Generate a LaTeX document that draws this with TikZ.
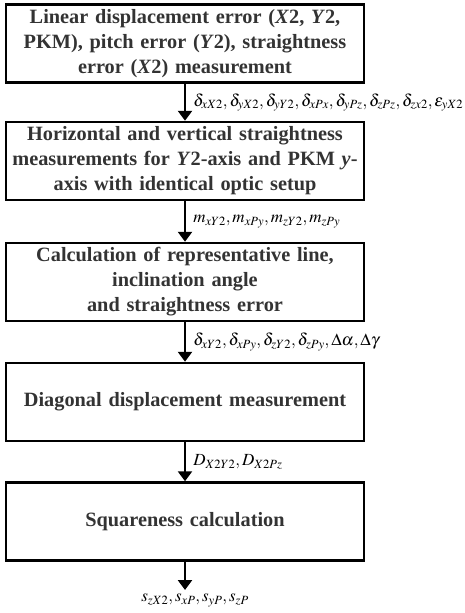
\documentclass[tikz,border=0pt]{standalone}
\usepackage{mathptmx}
\usepackage{fontspec}
\setmainfont{Liberation Serif}
\usetikzlibrary{arrows.meta,positioning,calc}
\tikzset{
    stepbox/.style={draw=black, line width=2.5pt, minimum width=358pt, minimum height=78pt,
        text width=350pt, align=center, text=black!80,
        font=\fontsize{20.3}{25}\selectfont\bfseries},
    flow/.style={-{Triangle[width=14pt,length=10pt]}, line width=2.5pt},
    vars/.style={anchor=west, inner sep=2pt, font=\fontsize{17}{20}\selectfont}
}

\begin{document}
\begin{tikzpicture}[x=1pt, y=-1pt]
    \useasboundingbox (0,0) rectangle (465,613);
    \node[stepbox] (lin) at (185,43.5) {Linear displacement error (\textit{X}2, \textit{Y}2,\\ PKM), pitch error (\textit{Y}2), straightness\\ error (\textit{X}2) measurement};
    \node[stepbox] (hv) at (185,161) {Horizontal and vertical straightness\\ measurements for \textit{Y}2-axis and PKM \textit{y}-\\ axis with identical optic setup};
    \node[stepbox] (calc) at (185,282) {Calculation of representative line,\\ inclination angle\\ and straightness error};
    \node[stepbox] (diag) at (185,402) {Diagonal displacement measurement};
    \node[stepbox] (sq) at (185,521.5) {Squareness calculation};
    \coordinate (end) at (185,590);
    \draw[flow] (lin) -- node[vars, right=5pt] (v1) {$\delta_{xX2},\delta_{yX2},\delta_{yY2},\delta_{xPx},\delta_{yPz},\delta_{zPz},\delta_{zx2},\varepsilon_{yX2}$} (hv);
    \draw[flow] (hv) -- node[vars, right=5pt] (v2) {$m_{xY2},m_{xPy},m_{zY2},m_{zPy}$} (calc);
    \draw[flow] (calc) -- node[vars, right=5pt] (v3) {$\delta_{xY2},\delta_{xPy},\delta_{zY2},\delta_{zPy},\Delta\alpha,\Delta\gamma$} (diag);
    \draw[flow] (diag) -- node[vars, right=5pt] (v4) {$D_{X2Y2},D_{X2Pz}$} (sq);
    \draw[flow] (sq) -- (end);
    \node[vars, anchor=north] (v5) at ($(end)+(10,2)$) {$s_{zX2},s_{xP},s_{yP},s_{zP}$};
\end{tikzpicture}
\end{document}
